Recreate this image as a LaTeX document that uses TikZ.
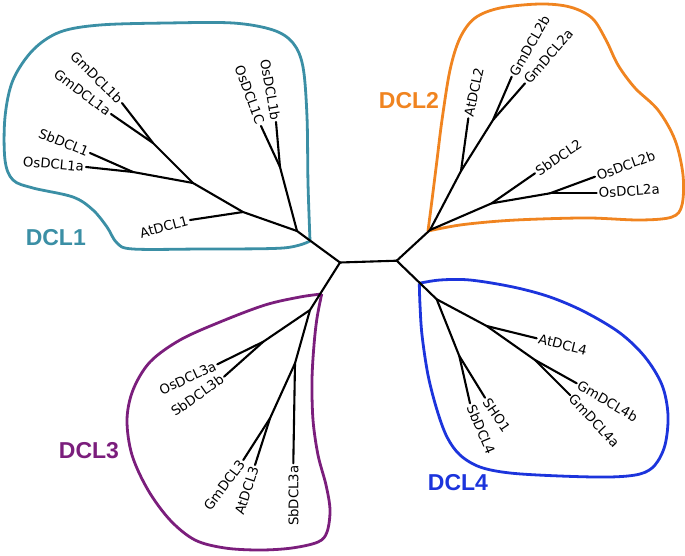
\documentclass[tikz,border=0pt]{standalone}
\usepackage{fontspec}
\setmainfont{DejaVu Sans}
\newfontfamily\grpfont{Liberation Sans}
\definecolor{cteal}{RGB}{59,143,165}
\definecolor{corange}{RGB}{240,132,32}
\definecolor{cpurple}{RGB}{123,30,124}
\definecolor{cblue}{RGB}{28,52,220}
\begin{document}
\begin{tikzpicture}[x=1pt,y=-1pt,
  br/.style={line width=2.1pt, line cap=round, line join=round},
  blob/.style={line width=2.8pt, line join=round},
  leaf/.style={font=\fontsize{13.3}{15}\selectfont, inner sep=2pt},
  grp/.style={font=\grpfont\bfseries\fontsize{23}{26}\selectfont, inner sep=0pt}]
\useasboundingbox (0,0) rectangle (685,555);

% ---- blobs ----
\draw[blob, cteal] plot[smooth, tension=0.55] coordinates {(310,241) (283,248) (200,249) (133,249) (117,243) (107,227) (93,210) (73,197) (33,188) (13,180) (5,160) (5,117) (13,80) (33,50) (60,32) (100,25) (167,23) (233,23) (273,30) (293,43) (303,67) (307,117) (308,183) (310,241)};
\draw[blob, corange] plot[smooth, tension=0.55] coordinates {(428,231) (432,200) (437,160) (442,120) (450,70) (460,38) (475,18) (500,8) (540,4) (570,7) (592,18) (606,40) (618,65) (635,88) (658,110) (675,140) (683,175) (682,205) (672,217) (640,220) (590,218) (540,219) (500,221) (460,225) (428,231)};
\draw[blob, cpurple] plot[smooth, tension=0.55] coordinates {(321.7,294) (300,297) (265,305) (220,322) (180,340) (150,362) (133,390) (127,420) (132,455) (148,490) (170,520) (195,540) (225,548) (260,550) (292,548) (318,542) (327,532) (330,510) (326,485) (318,455) (313,420) (312,380) (314,345) (317,318) (321.7,294)};
\draw[blob, cblue] plot[smooth, tension=0.55] coordinates {(419.3,283.3) (440,280) (470,280) (513,287) (550,297) (585,312) (620,333) (645,357) (662,385) (668,415) (665,445) (655,465) (640,474) (610,477) (560,476) (510,473) (480,467) (460,455) (447,437) (437,410) (428,375) (422,335) (420,305) (419.3,283.3)};

% ---- tree coordinates ----
\coordinate (L) at (340,262.5);
\coordinate (R) at (396.7,260.7);
% DCL1
\coordinate (n1) at (297,231);
\coordinate (n2) at (243,212);
\coordinate (n3) at (193,183);
\coordinate (n4) at (133,172);
\coordinate (n5) at (153,143);
\coordinate (n6) at (280,167);
\coordinate (tGmA) at (122,103);
\coordinate (tGmB) at (111,114);
\coordinate (tSbA) at (90,153);
\coordinate (tOsA) at (86,167);
\coordinate (tAtA) at (190,220);
\coordinate (tOsC) at (261,126);
\coordinate (tOsB) at (276,122);
% DCL2
\coordinate (m1) at (430,230);
\coordinate (m2) at (461,171);
\coordinate (m3) at (493,120);
\coordinate (m4) at (491.7,203.3);
\coordinate (m5) at (550,193.3);
\coordinate (uAt) at (468.3,118.3);
\coordinate (uGb) at (511.7,76.7);
\coordinate (uGa) at (525,83.3);
\coordinate (uSb) at (535,173.3);
\coordinate (uOb) at (595,176.7);
\coordinate (uOa) at (596.7,193.3);
% DCL3
\coordinate (p2) at (310,310);
\coordinate (p3) at (263.3,341.7);
\coordinate (p4) at (295,363.3);
\coordinate (p5) at (270,418.3);
\coordinate (vOa) at (217.3,364.3);
\coordinate (vSb) at (224,376.7);
\coordinate (vSa) at (293.3,463.3);
\coordinate (vGm) at (243.3,460);
\coordinate (vAt) at (255,465);
% DCL4
\coordinate (q1) at (436.7,299.3);
\coordinate (q2) at (459.3,356);
\coordinate (q3) at (486.7,326);
\coordinate (q4) at (535,360);
\coordinate (wSb) at (470,403.3);
\coordinate (wSh) at (485,397.7);
\coordinate (wAt) at (536.7,338.3);
\coordinate (wGb) at (576.7,383.3);
\coordinate (wGa) at (570,395);

% ---- branches ----
\draw[br] (L) -- (R);
\draw[br] (L) -- (n1) -- (n2) -- (n3) -- (n5) -- (tGmA);
\draw[br] (n5) -- (tGmB);
\draw[br] (n3) -- (n4) -- (tSbA);
\draw[br] (n4) -- (tOsA);
\draw[br] (n2) -- (tAtA);
\draw[br] (n1) -- (n6) -- (tOsC);
\draw[br] (n6) -- (tOsB);

\draw[br] (R) -- (m1) -- (m2) -- (uAt);
\draw[br] (m2) -- (m3) -- (uGb);
\draw[br] (m3) -- (uGa);
\draw[br] (m1) -- (m4) -- (uSb);
\draw[br] (m4) -- (m5) -- (uOb);
\draw[br] (m5) -- (uOa);

\draw[br] (L) -- (p2) -- (p3) -- (vOa);
\draw[br] (p3) -- (vSb);
\draw[br] (p2) -- (p4) -- (vSa);
\draw[br] (p4) -- (p5) -- (vGm);
\draw[br] (p5) -- (vAt);

\draw[br] (R) -- (q1) -- (q2) -- (wSb);
\draw[br] (q2) -- (wSh);
\draw[br] (q1) -- (q3) -- (wAt);
\draw[br] (q3) -- (q4) -- (wGb);
\draw[br] (q4) -- (wGa);

% ---- leaf labels ----
\node[leaf, rotate=-45, anchor=east] (lGmA) at (tGmA) {GmDCL1b};
\node[leaf, rotate=-37, anchor=east] (lGmB) at (tGmB) {GmDCL1a};
\node[leaf, rotate=-22, anchor=east] (lSbA) at (tSbA) {SbDCL1};
\node[leaf, rotate=-5, anchor=east] (lOsA) at (tOsA) {OsDCL1a};
\node[leaf, rotate=15, anchor=east] (lAtA) at (tAtA) {AtDCL1};
\node[leaf, rotate=-70, anchor=east] (lOsC) at (tOsC) {OsDCL1C};
\node[leaf, rotate=-80, anchor=east] (lOsB) at (tOsB) {OsDCL1b};

\node[leaf, rotate=78, anchor=west] (lAt2) at (uAt) {AtDCL2};
\node[leaf, rotate=60, anchor=west] (lGb2) at (uGb) {GmDCL2b};
\node[leaf, rotate=49, anchor=west] (lGa2) at (uGa) {GmDCL2a};
\node[leaf, rotate=34, anchor=west] (lSb2) at (uSb) {SbDCL2};
\node[leaf, rotate=20, anchor=west] (lOb2) at (uOb) {OsDCL2b};
\node[leaf, rotate=4, anchor=west] (lOa2) at (uOa) {OsDCL2a};

\node[leaf, rotate=25, anchor=east] (lOa3) at (vOa) {OsDCL3a};
\node[leaf, rotate=35, anchor=east] (lSb3) at (vSb) {SbDCL3b};
\node[leaf, rotate=53, anchor=east] (lGm3) at (vGm) {GmDCL3};
\node[leaf, rotate=72, anchor=east] (lAt3) at (vAt) {AtDCL3};
\node[leaf, rotate=90, anchor=east] (lSa3) at (vSa) {SbDCL3a};

\node[leaf, rotate=-14, anchor=west] (lAt4) at (wAt) {AtDCL4};
\node[leaf, rotate=-30, anchor=west] (lGb4) at (wGb) {GmDCL4b};
\node[leaf, rotate=-47, anchor=west] (lGa4) at (wGa) {GmDCL4a};
\node[leaf, rotate=-56, anchor=west] (lSh4) at (wSh) {SHO1};
\node[leaf, rotate=-67, anchor=west] (lSb4) at (wSb) {SbDCL4};

% ---- group labels ----
\node[grp, text=cteal] (g1) at (55.8,237.5) {DCL1};
\node[grp, text=corange] (g2) at (409,100.5) {DCL2};
\node[grp, text=cpurple] (g3) at (89,450.8) {DCL3};
\node[grp, text=cblue] (g4) at (458,483) {DCL4};
\end{tikzpicture}
\end{document}
